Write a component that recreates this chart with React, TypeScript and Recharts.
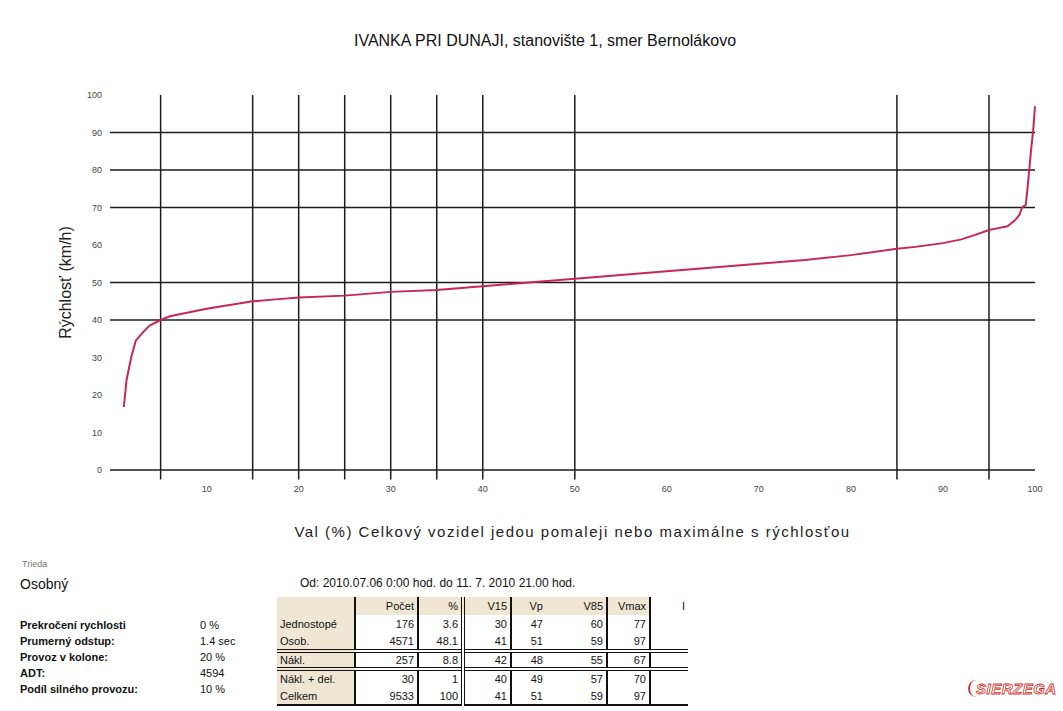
import React from "react";
import { LineChart, Line, XAxis, YAxis, ReferenceLine } from "recharts";

// percentil vozidiel (%) a rýchlosť (km/h)
const percentiles = [1, 1.3, 1.8, 2.3, 3, 3.8, 5, 6, 8, 10, 12.5, 15, 17.5, 20, 25, 30, 35, 40, 45, 50, 55, 60, 65, 70, 75, 80, 85, 87, 90, 92, 93.5, 95, 96, 97, 97.8, 98.3, 98.6, 99, 99.3, 99.6, 99.8, 100];
const speeds = [16.8, 24, 30, 34.5, 36.5, 38.5, 40, 41, 42, 43, 44, 45, 45.5, 46, 46.5, 47.5, 48, 49, 50, 51, 52, 53, 54, 55, 56, 57.3, 59, 59.5, 60.5, 61.5, 62.7, 64, 64.5, 65, 66.5, 68, 70, 70.7, 78, 86, 90.5, 97];

const yTicks = [0, 10, 20, 30, 40, 50, 60, 70, 80, 90, 100];
const xTicks = [10, 20, 30, 40, 50, 60, 70, 80, 90, 100];
const hLines = [40, 50, 70, 80, 90];
const vLines = [5, 15, 20, 25, 30, 35, 40, 50, 85, 95];

const statLabels = ["Prekročení rychlosti", "Prumerný odstup:", "Provoz v kolone:", "ADT:", "Podíl silného provozu:"];
const statValues = ["0 %", "1.4 sec", "20 %", "4594", "10 %"];

const tableHeaders = ["", "Počet", "%", "V15", "Vp", "V85", "Vmax", "I"];
const rowLabels = ["Jednostopé", "Osob.", "Nákl.", "Nákl. + del.", "Celkem"];
const rowValues = [
  ["176", "3.6", "30", "47", "60", "77", ""],
  ["4571", "48.1", "41", "51", "59", "97", ""],
  ["257", "8.8", "42", "48", "55", "67", ""],
  ["30", "1", "40", "49", "57", "70", ""],
  ["9533", "100", "41", "51", "59", "97", ""],
];

const chartData = percentiles.map((p, i) => ({ p, v: speeds[i] }));

const colWidths = [78, 63, 45, 48, 35, 61, 43, 38];
const lineColor = "#1c1c1c";
const font = "'Liberation Sans', Arial, sans-serif";

function StatsTable() {
  const cell = (i: number, extra: React.CSSProperties = {}): React.CSSProperties => ({
    width: colWidths[i],
    minWidth: colWidths[i],
    maxWidth: colWidths[i],
    padding: "0 3px",
    boxSizing: "border-box",
    textAlign: i === 0 ? "left" : "right",
    borderRight:
      i === 2 ? "4px double #111" : i === 0 || i === 1 || i === 3 || i === 5 || i === 6 ? "2px solid #111" : "none",
    background: i === 0 ? "#efe7d3" : "white",
    whiteSpace: "nowrap",
    ...extra,
  });
  return (
    <div style={{ position: "absolute", left: 277, top: 597, width: 413, height: 114, overflow: "hidden" }}>
      <table style={{ borderCollapse: "collapse", fontFamily: font, fontSize: 11, color: "#111", tableLayout: "fixed" }}>
        <tbody>
          <tr style={{ height: 18, background: "#efe7d3" }}>
            {tableHeaders.map((h, i) => (
              <td key={i} style={cell(i, { background: i < 7 ? "#efe7d3" : "white" })}>
                {h}
              </td>
            ))}
          </tr>
          {rowLabels.map((lab, r) => (
            <tr
              key={r}
              style={{
                height: 18,
                borderBottom: r === 1 || r === 2 ? "4px double #111" : r === 4 ? "2px solid #111" : "none",
              }}
            >
              <td style={cell(0)}>{lab}</td>
              {rowValues[r].map((v, i) => (
                <td key={i} style={cell(i + 1)}>
                  {v}
                </td>
              ))}
            </tr>
          ))}
        </tbody>
      </table>
    </div>
  );
}

export default function App() {
  return (
    <div
      style={{
        position: "absolute",
        left: 0,
        top: 0,
        width: 1063,
        height: 711,
        background: "white",
        fontFamily: font,
        overflow: "hidden",
      }}
    >
      <div
        style={{
          position: "absolute",
          top: 32,
          left: 0,
          width: 1090,
          textAlign: "center",
          fontSize: 16,
          color: "#111",
        }}
      >
        IVANKA PRI DUNAJI, stanovište 1, smer Bernolákovo
      </div>

      <div style={{ position: "absolute", left: 0, top: 0 }}>
        <LineChart width={1063} height={560} data={chartData} margin={{ top: 95, right: 28, left: 20, bottom: 23 }}>
          <XAxis
            dataKey="p"
            type="number"
            domain={[-0.5, 100]}
            ticks={xTicks}
            interval={0}
            tickLine={false}
            tickSize={6}
            tickMargin={10}
            axisLine={{ stroke: lineColor, strokeWidth: 1.5 }}
            tick={{ fontSize: 9, fill: "#444", fontFamily: font }}
            height={67}
            label={{
              value: "Val (%) Celkový vozidel jedou pomaleji nebo maximálne s rýchlosťou",
              position: "insideBottom",
              offset: 0,
              fill: "#222",
              fontSize: 15,
              fontFamily: font,
              letterSpacing: 1.5,
            }}
          />
          <YAxis
            type="number"
            domain={[0, 100]}
            ticks={yTicks}
            interval={0}
            width={90}
            axisLine={false}
            tickLine={false}
            tick={{ fontSize: 9, fill: "#444", fontFamily: font }}
            label={{
              value: "Rýchlosť (km/h)",
              angle: -90,
              position: "center",
              fill: "#222",
              fontSize: 16,
              fontFamily: font,
            }}
          />
          {hLines.map((y) => (
            <ReferenceLine key={"h" + y} y={y} stroke={lineColor} strokeWidth={1.5} />
          ))}
          {vLines.map((x) => (
            <ReferenceLine
              key={"v" + x}
              segment={[
                { x, y: -2.5 },
                { x, y: 100 },
              ]}
              ifOverflow="visible"
              stroke={lineColor}
              strokeWidth={1.5}
            />
          ))}
          <Line
            type="linear"
            dataKey="v"
            stroke="#c8255f"
            strokeWidth={2}
            dot={false}
            isAnimationActive={false}
          />
        </LineChart>
      </div>

      <div style={{ position: "absolute", left: 22, top: 559, fontSize: 9, color: "#777" }}>Trieda</div>
      <div style={{ position: "absolute", left: 20, top: 576, fontSize: 14, color: "#111" }}>Osobný</div>

      {statLabels.map((s, i) => (
        <React.Fragment key={s}>
          <div
            style={{
              position: "absolute",
              left: 20,
              top: 619 + i * 16,
              fontSize: 11,
              fontWeight: "bold",
              color: "#111",
            }}
          >
            {s}
          </div>
          <div
            style={{
              position: "absolute",
              left: 200,
              top: 619 + i * 16,
              fontSize: 11,
              color: "#111",
              whiteSpace: "nowrap",
            }}
          >
            {statValues[i]}
          </div>
        </React.Fragment>
      ))}

      <div style={{ position: "absolute", left: 300, top: 576, fontSize: 12, color: "#111", whiteSpace: "nowrap" }}>
        Od: 2010.07.06 0:00 hod. do 11. 7. 2010 21.00 hod.
      </div>

      <StatsTable />

      <div
        style={{
          position: "absolute",
          left: 968,
          top: 680,
          padding: "0 6px",
          borderLeft: "2px solid #d0312d",
          borderRadius: "12px 0 0 12px",
          fontSize: 15,
          fontWeight: "bold",
          fontStyle: "italic",
          color: "white",
          WebkitTextStroke: "0.8px #d0312d",
          letterSpacing: 0.5,
        }}
      >
        SIERZEGA
      </div>
    </div>
  );
}
